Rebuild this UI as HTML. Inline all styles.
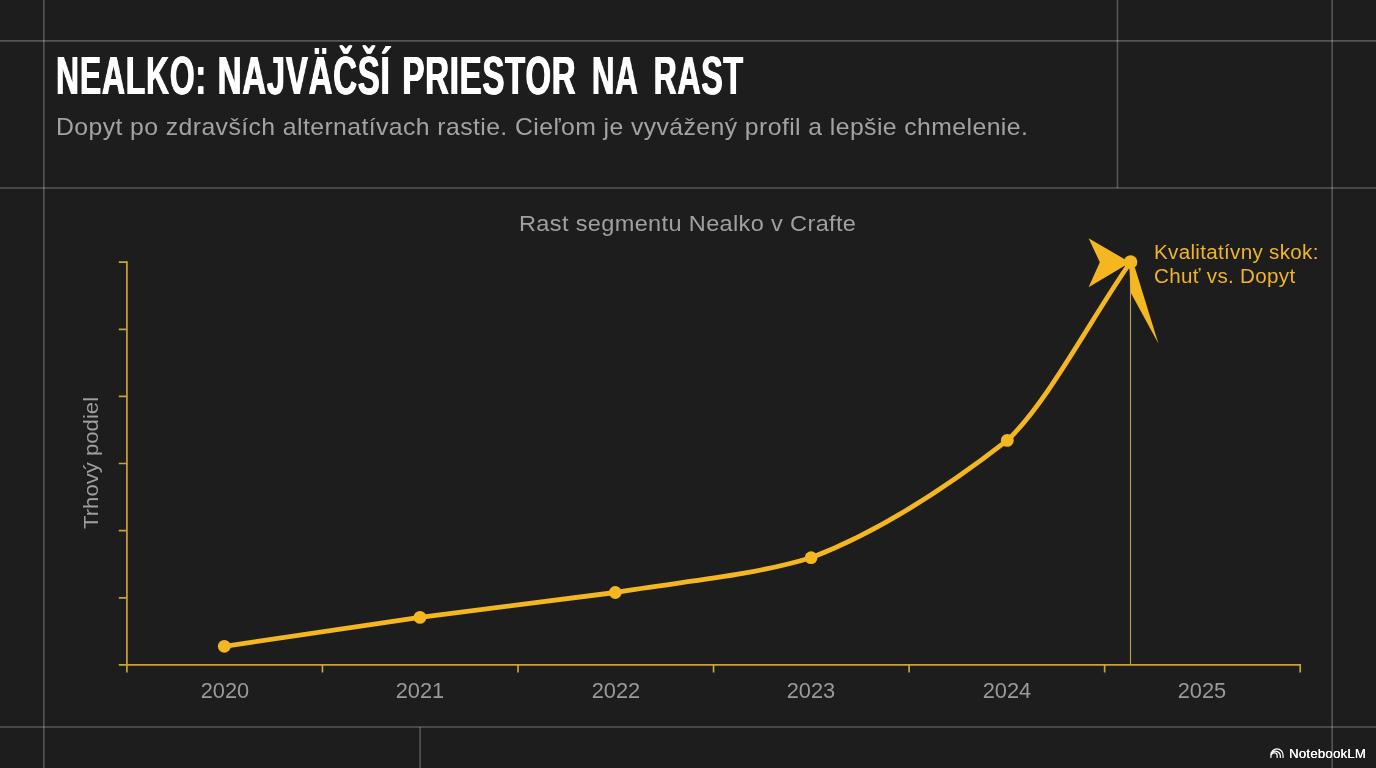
<!DOCTYPE html>
<html lang="sk">
<head>
<meta charset="utf-8">
<title>Nealko: Najväčší priestor na rast</title>
<style>
  html, body { margin: 0; padding: 0; }
  body {
    width: 1376px; height: 768px; overflow: hidden;
    background: #1d1d1d;
    font-family: "Liberation Sans", sans-serif;
    position: relative;
  }
  .slide { position: absolute; left: 0; top: 0; width: 1376px; height: 768px; overflow: hidden; background: #1d1d1d; }
  h1 {
    position: absolute; left: 56.3px; top: 46px; margin: 0;
    font-family: "Liberation Sans", sans-serif; font-weight: 700;
    font-size: 54px; line-height: 58px; color: #ffffff; white-space: nowrap;
    transform-origin: 0 0; transform: scaleX(0.611);
    letter-spacing: 1.2px; text-shadow: 0.85px 0 0 #fff, -0.85px 0 0 #fff;
  }
  h1 span { display: inline-block; transform-origin: 0 50%; }
  h1 .w1 { transform: scaleX(0.97); }
  h1 .w2 { margin-left: -6px; }
  h1 .w3 { margin-left: 3.5px; }
  h1 .w4 { margin-left: 9.5px; transform: scaleX(0.95); }
  h1 .w5 { margin-left: 3.6px; transform: scaleX(0.972); }
  .sub {
    position: absolute; left: 56px; top: 112px; margin: 0;
    font-size: 24px; line-height: 30px; color: #a3a3a3; white-space: nowrap;
    transform-origin: 0 0; letter-spacing: 0.4px; transform: scaleX(1.0323);
  }
  .ctitle {
    position: absolute; left: 519.3px; top: 210px; margin: 0;
    font-size: 22.5px; line-height: 28px; color: #a0a0a0; white-space: nowrap;
    transform-origin: 0 0; letter-spacing: 0.35px; transform: scaleX(1.045);
  }
  .ylabel {
    position: absolute; left: 78px; top: 529px; margin: 0;
    font-size: 21px; line-height: 26px; color: #9e9e9e; white-space: nowrap;
    transform-origin: 0 0; transform: rotate(-90deg) scaleX(1.054);
  }
  .xl {
    position: absolute; top: 677.6px; width: 80px; margin-left: -40px; text-align: center;
    font-size: 21.8px; line-height: 26px; color: #9a9a9a;
  }
  .anno {
    position: absolute; left: 1154px; top: 239.8px; margin: 0;
    font-size: 20px; line-height: 24px; color: #efb42a; white-space: nowrap;
    transform-origin: 0 0; letter-spacing: 0.3px; transform: scaleX(1.03);
  }
  .brand {
    position: absolute; left: 1289.1px; top: 745.6px;
    font-size: 12.5px; line-height: 16px; color: #ffffff; white-space: nowrap;
    transform-origin: 0 0; font-weight: 400; letter-spacing: 0.25px; transform: scaleX(1.05); text-shadow: 0.25px 0 0 #fff;
  }
  svg.chart { position: absolute; left: 0; top: 0; }
  h1, .sub, .ctitle, .ylabel, .xl, .anno, .brand { will-change: transform; }
</style>
</head>
<body>
<div class="slide">

  <h1><span class="w1">NEALKO:</span> <span class="w2">NAJVÄČŠÍ</span> <span class="w3">PRIESTOR</span> <span class="w4">NA</span> <span class="w5">RAST</span></h1>
  <p class="sub">Dopyt po zdravších alternatívach rastie. Cieľom je vyvážený profil a lepšie chmelenie.</p>

  <p class="ctitle">Rast segmentu Nealko v Crafte</p>
  <p class="ylabel">Trhový podiel</p>

  <svg class="chart" width="1376" height="768" viewBox="0 0 1376 768">
    <!-- layout guide lines -->
    <g stroke="#ffffff" stroke-opacity="0.25" stroke-width="1.6" fill="none">
      <path d="M0 40.9 H1376 M0 188 H1376 M0 727 H1376"/>
      <path d="M43.8 0 V768 M1117.5 0 V188 M1332.2 0 V768 M420.1 727 V768"/>
    </g>
    <!-- axes -->
    <g stroke="#c8a338" stroke-width="1.7" fill="none">
      <path d="M126.9 261.3 V672.6"/>
      <path d="M118.8 664.9 H1301.1"/>
      <path d="M118.8 262.2 H126.9 M118.8 329.3 H126.9 M118.8 396.4 H126.9 M118.8 463.5 H126.9 M118.8 530.6 H126.9 M118.8 597.8 H126.9"/>
      <path d="M322.45 664.9 V672.6 M518 664.9 V672.6 M713.55 664.9 V672.6 M909.1 664.9 V672.6 M1104.65 664.9 V672.6 M1300.2 664.9 V672.6"/>
    </g>
    <!-- marker line -->
    <path d="M1130.5 262 V664.9" stroke="#b89d50" stroke-width="1.15" fill="none"/>
    <!-- data curve -->
    <path id="curve" d="M224.3 646.3 L420 617.4 L615.3 592.5 C680.6 581.3 745.8 577.2 811.1 557.7 C876.5 532.8 941.9 491.2 1007.3 440.4 C1048.4 401.3 1089.5 321 1130.6 262"
          stroke="#f4b722" stroke-width="4.8" fill="none" stroke-linecap="round" stroke-linejoin="round"/>
    <g fill="#f4b722">
      <circle cx="224.3" cy="646.3" r="6.4"/>
      <circle cx="420" cy="617.4" r="6.4"/>
      <circle cx="615.3" cy="592.5" r="6.4"/>
      <circle cx="811.1" cy="557.7" r="6.4"/>
      <circle cx="1007.3" cy="440.4" r="6.4"/>
      <circle cx="1130.6" cy="262" r="6.8"/>
      <!-- arrow barbs -->
      <path d="M1088.6 238.2 L1126 260 L1126 265 L1088.6 287.3 L1099.8 262.2 Z"/>
      <path d="M1129.4 268 L1134.8 267.3 L1158.4 343.6 L1130.9 293 Z"/>
    </g>
  </svg>

  <span class="xl" style="left:224.6px">2020</span>
  <span class="xl" style="left:420.2px">2021</span>
  <span class="xl" style="left:615.8px">2022</span>
  <span class="xl" style="left:811.3px">2023</span>
  <span class="xl" style="left:1006.9px">2024</span>
  <span class="xl" style="left:1202.4px">2025</span>

  <p class="anno">Kvalitatívny skok:<br>Chuť vs. Dopyt</p>

  <svg class="chart" style="left:1270px; top:747.9px" width="14" height="10" viewBox="0 0 14 10">
    <g fill="none" stroke="#ffffff" stroke-width="1.2">
      <path d="M0.95 10 V7 A6.05 6.05 0 0 1 13.05 7 V10"/>
      <path d="M1.5 4.9 A5 5 0 0 1 10.35 7.7 V10"/>
      <path d="M1.2 7.3 A2.95 2.95 0 0 1 7.1 8.5 V10"/>
    </g>
  </svg>
  <span class="brand">NotebookLM</span>
</div>
</body>
</html>
